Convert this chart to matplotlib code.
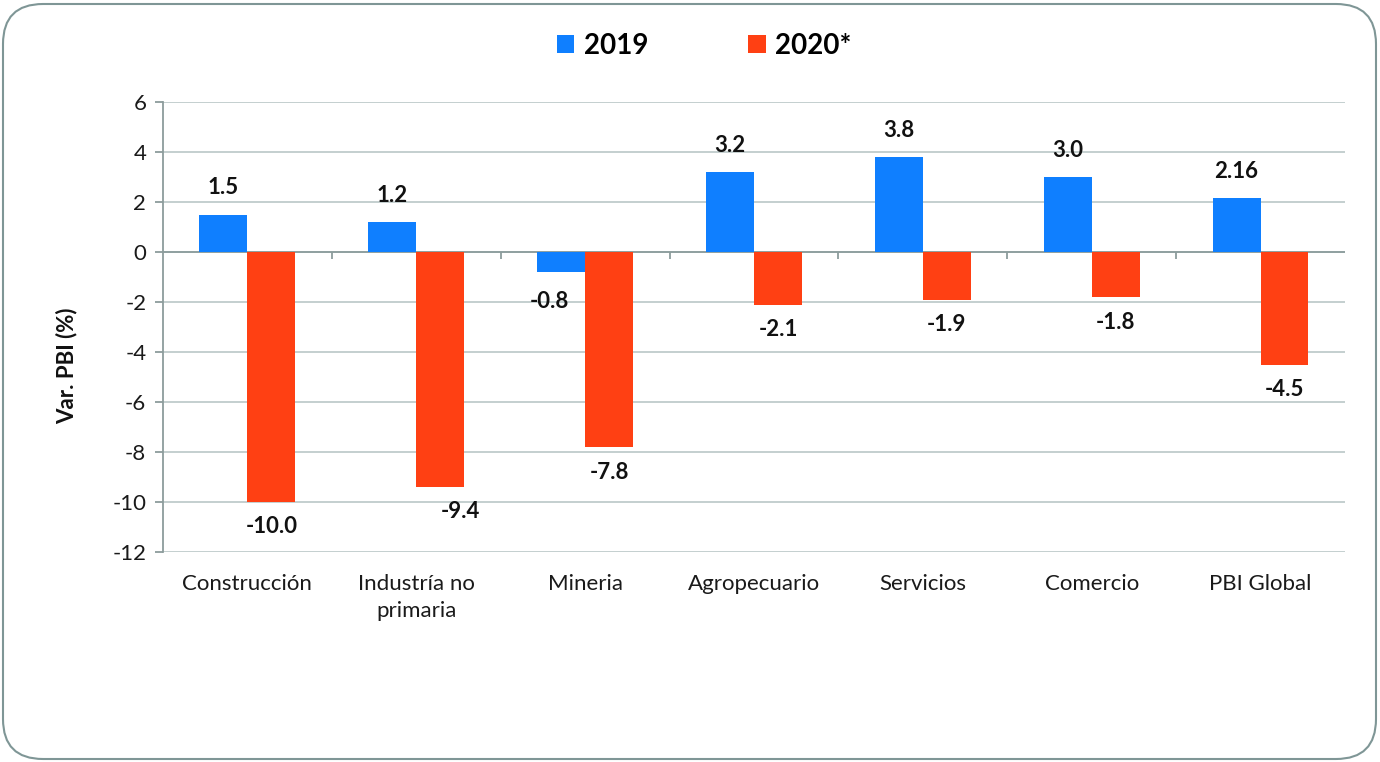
import numpy as np
import matplotlib
matplotlib.use('Agg')
import matplotlib.pyplot as plt
import matplotlib.patches as mpatches

plt.rcParams['font.family'] = ['Lato', 'DejaVu Sans']

categories = ['Construcción', 'Industría no\nprimaria', 'Mineria', 'Agropecuario',
              'Servicios', 'Comercio', 'PBI Global']
vals_2019 = [1.5, 1.2, -0.8, 3.2, 3.8, 3.0, 2.16]
vals_2020 = [-10.0, -9.4, -7.8, -2.1, -1.9, -1.8, -4.5]
labels_2019 = ['1.5', '1.2', '-0.8', '3.2', '3.8', '3.0', '2.16']
labels_2020 = ['-10.0', '-9.4', '-7.8', '-2.1', '-1.9', '-1.8', '-4.5']
series_names = ['2019', '2020*']
yticks = [6, 4, 2, 0, -2, -4, -6, -8, -10, -12]

blue = '#0F7FFF'
orange = '#FF4013'
grid_c = '#BFCBCB'
axis_c = '#8C9C9C'

fig = plt.figure(figsize=(13.8, 7.62), dpi=100)
ax = fig.add_axes([0.1181, 0.2756, 0.8565, 0.5905])

x = np.arange(len(categories))
w = 0.284
b1 = ax.bar(x - w / 2, vals_2019, w, color=blue, zorder=3, label=series_names[0])
b2 = ax.bar(x + w / 2, vals_2020, w, color=orange, zorder=3, label=series_names[1])

ax.set_xlim(-0.5, len(categories) - 0.5)
ax.set_ylim(-12, 6)
ax.set_yticks(yticks)
ax.set_yticklabels([str(t) for t in yticks], fontsize=16, color='#1a1a1a')
ax.yaxis.grid(True, color=grid_c, linewidth=1.3, zorder=0)
ax.set_axisbelow(True)

for s in ['top', 'right', 'bottom']:
    ax.spines[s].set_visible(False)
ax.spines['left'].set_color(axis_c)
ax.spines['left'].set_linewidth(1.3)
ax.tick_params(axis='y', length=6, color=axis_c, width=1.3, pad=6)

# zero line with category separator ticks
ax.axhline(0, color=axis_c, linewidth=1.3, zorder=2)
ax.vlines(np.arange(len(categories) - 1) + 0.5, -0.28, 0, color=axis_c, linewidth=1.3, zorder=2)

ax.set_xticks(x)
ax.set_xticklabels(categories, fontsize=16, color='#1a1a1a', linespacing=1.45)
ax.tick_params(axis='x', length=0, pad=16)

for rect, v, lab in zip(b1, vals_2019, labels_2019):
    cx = rect.get_x() + rect.get_width() / 2
    dy = 27 if v >= 0 else -29
    dx = -12 if v < 0 else 0
    ax.annotate(lab, (cx, v), xytext=(dx, dy), textcoords='offset pixels',
                ha='center', va='center', fontsize=16, fontweight='bold', color='#111111')

for rect, v, lab in zip(b2, vals_2020, labels_2020):
    cx = rect.get_x() + rect.get_width() / 2
    dx = 20 if lab == '-9.4' else 0
    ax.annotate(lab, (cx, v), xytext=(dx, -25), textcoords='offset pixels',
                ha='center', va='center', fontsize=16, fontweight='bold', color='#111111')

fig.text(0.0486, 0.52, 'Var. PBI (%)', rotation=90, ha='center', va='center',
         fontsize=16, fontweight='bold', color='#111111')

leg = fig.legend(handles=[b1, b2], labels=series_names, loc='center',
                 bbox_to_anchor=(0.5105, 0.94), ncol=2, frameon=False,
                 prop={'size': 20, 'weight': 'bold'}, handlelength=0.62, handleheight=0.62,
                 handletextpad=0.35, columnspacing=3.6)

border = mpatches.FancyBboxPatch((3, 3), 1373, 755,
                                 boxstyle='round,pad=0,rounding_size=40',
                                 transform=None, facecolor='none',
                                 edgecolor='#7F9696', linewidth=1.5)
fig.add_artist(border)

fig.savefig('out.png', dpi=100)
